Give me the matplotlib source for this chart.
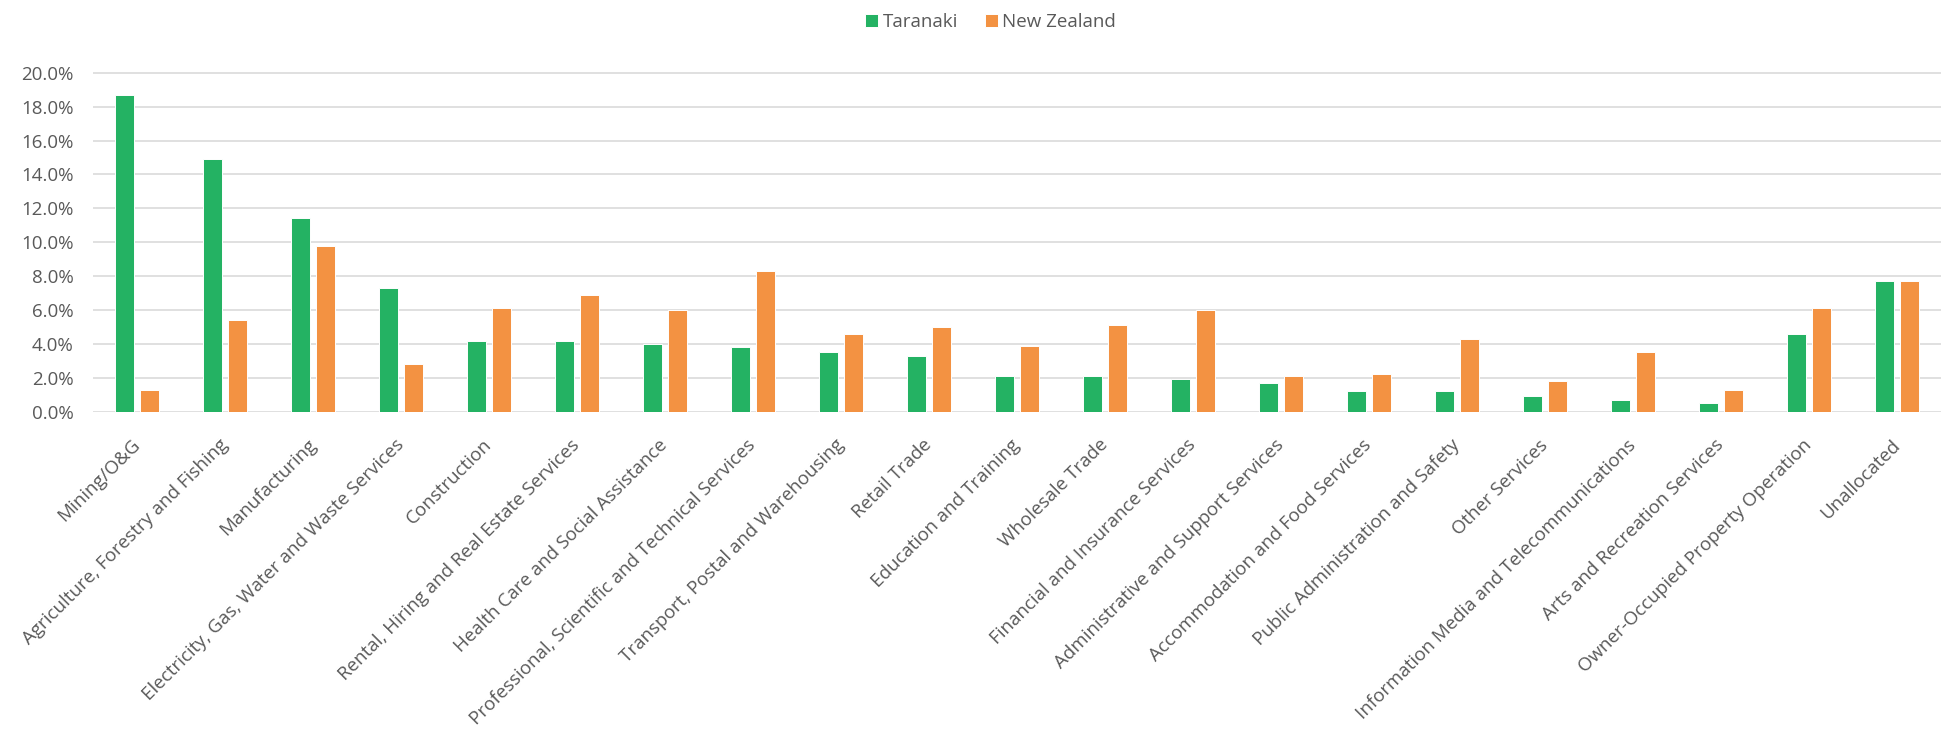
import numpy as np
import matplotlib.pyplot as plt
from matplotlib.ticker import PercentFormatter

plt.rcParams['font.family'] = ['Open Sans', 'DejaVu Sans']

industries = ['Mining/O&G', 'Agriculture, Forestry and Fishing', 'Manufacturing',
              'Electricity, Gas, Water and Waste Services', 'Construction',
              'Rental, Hiring and Real Estate Services', 'Health Care and Social Assistance',
              'Professional, Scientific and Technical Services',
              'Transport, Postal and Warehousing', 'Retail Trade', 'Education and Training',
              'Wholesale Trade', 'Financial and Insurance Services',
              'Administrative and Support Services', 'Accommodation and Food Services',
              'Public Administration and Safety', 'Other Services',
              'Information Media and Telecommunications', 'Arts and Recreation Services',
              'Owner-Occupied Property Operation', 'Unallocated']
taranaki = [18.7, 14.9, 11.4, 7.3, 4.2, 4.2, 4.0, 3.8, 3.5, 3.3, 2.1,
            2.1, 1.9, 1.7, 1.2, 1.2, 0.9, 0.7, 0.5, 4.6, 7.7]
new_zealand = [1.3, 5.4, 9.8, 2.8, 6.1, 6.9, 6.0, 8.3, 4.6, 5.0, 3.9,
               5.1, 6.0, 2.1, 2.2, 4.3, 1.8, 3.5, 1.3, 6.1, 7.7]

green = '#24B263'
orange = '#F39242'
grey = '#595959'

fig = plt.figure(figsize=(19.5, 7.3), dpi=100)
ymax = 20.1
bottom = 1 - 411.7 / 730
height = 339.0 * ymax / 20 / 730
ax = fig.add_axes([93 / 1950, bottom, (1941 - 93) / 1950, height])

x = np.arange(len(industries))
w = 0.22
ax.bar(x - 0.142, taranaki, w, color=green, edgecolor='white', lw=0.7, label='Taranaki', zorder=3)
ax.bar(x + 0.142, new_zealand, w, color=orange, edgecolor='white', lw=0.7, label='New Zealand', zorder=3)

ax.set_xlim(-0.5, 20.5)
ax.set_ylim(0, ymax)
ax.set_yticks(np.arange(0, 21, 2))
ax.yaxis.set_major_formatter(PercentFormatter(decimals=1))
ax.grid(axis='y', color='#DDDDDD', lw=1.3, zorder=0)
for s in ax.spines.values():
    s.set_visible(False)
ax.tick_params(axis='both', length=0, colors=grey)
ax.tick_params(axis='y', labelsize=13.5, pad=14)
ax.set_xticks(x)
ax.set_xticklabels(industries, rotation=45, ha='right', va='center',
                   rotation_mode='anchor', fontsize=13.5, color=grey)
ax.tick_params(axis='x', pad=22)

fig.legend(loc='upper center', bbox_to_anchor=(0.508, 1.005), ncol=2, frameon=False,
           handlelength=0.7, handleheight=0.7, handletextpad=0.25, columnspacing=1.4,
           fontsize=13.5, labelcolor=grey)

fig.savefig('out.png', dpi=100)
